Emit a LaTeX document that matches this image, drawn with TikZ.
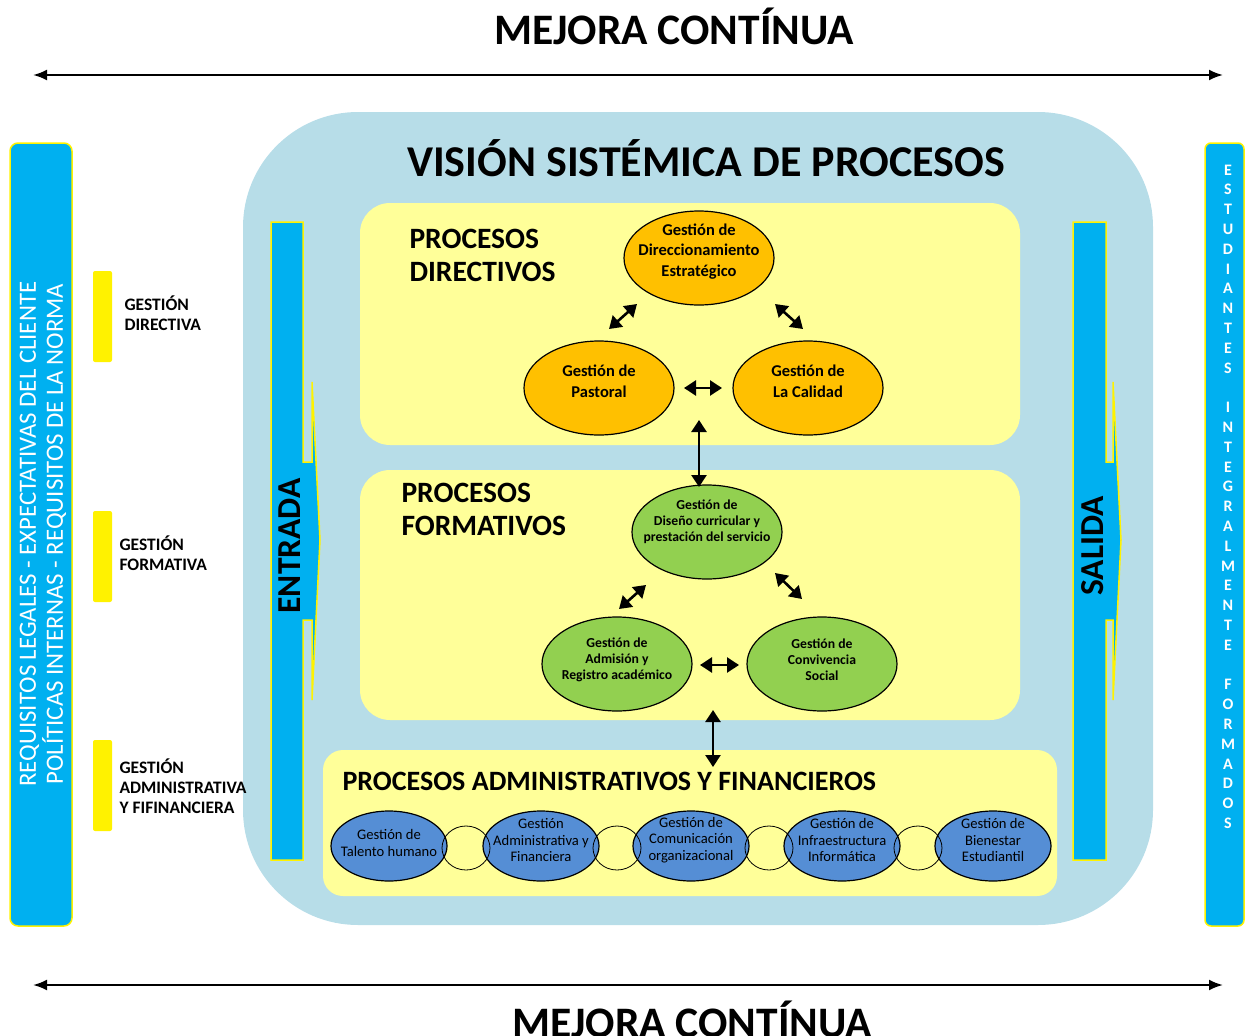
\documentclass[tikz,border=0pt]{standalone}
\usepackage{fontspec}
\setmainfont{Carlito}
\usetikzlibrary{arrows.meta,shapes.geometric,positioning}

\definecolor{celeste}{HTML}{B7DDE8}
\definecolor{azul}{HTML}{00B0F0}
\definecolor{amarillo}{HTML}{FFFF99}
\definecolor{naranja}{HTML}{FFC000}
\definecolor{verde}{HTML}{92D050}
\definecolor{azulgest}{HTML}{558ED5}

\tikzset{
  barra/.style={fill=azul, draw=yellow, line width=1.5pt},
  gdir/.style={ellipse, draw, line width=1.2pt, fill=naranja, minimum width=150pt, minimum height=94pt},
  gform/.style={gdir, fill=verde},
  gadm/.style={ellipse, draw, line width=1.2pt, fill=azulgest, minimum width=116pt, minimum height=70pt},
  tdir/.style={align=center, font=\bfseries\fontsize{16.5}{20.5}\selectfont},
  tform/.style={align=center, font=\bfseries\fontsize{13.7}{16}\selectfont},
  tadm/.style={align=center, font=\fontsize{14.6}{16.5}\selectfont},
  enlace/.style={ellipse, draw, line width=0.8pt, minimum width=48pt, minimum height=44pt},
  dflecha/.style={{Triangle[length=12pt,width=15pt]}-{Triangle[length=12pt,width=15pt]}, line width=2.6pt},
  flecha/.style={{Latex[length=14pt,width=11pt]}-{Latex[length=14pt,width=11pt]}, line width=2.2pt},
  titulo/.style={anchor=base, font=\bfseries\fontsize{43.5}{50}\selectfont},
  proc/.style={anchor=west, align=left, font=\bfseries\fontsize{29.5}{33}\selectfont},
  gest/.style={anchor=west, align=left, font=\bfseries\fontsize{17.5}{20}\selectfont},
}

\begin{document}
\begin{tikzpicture}[x=1pt,y=-1pt]
  \useasboundingbox (0,0) rectangle (1245,1036);

  % mejora continua
  \node[titulo] (mejora1) at (674,44) {MEJORA CONTÍNUA};
  \coordinate (m1a) at (33,75);
  \coordinate (m1b) at (1223,75);
  \draw[flecha] (m1a) -- (m1b);
  \coordinate (m2a) at (33,985);
  \coordinate (m2b) at (1223,985);
  \draw[flecha] (m2a) -- (m2b);
  \node[titulo] (mejora2) at (692,1037) {MEJORA CONTÍNUA};

  % requisitos y estudiantes
  \draw[barra, rounded corners=8pt] (10,143) rectangle (72,926);
  \node[rotate=90, white, align=center, font=\fontsize{24.8}{27}\selectfont] (requisitos) at (43,534)
    {REQUISITOS LEGALES - EXPECTATIVAS DEL CLIENTE\\POLÍTICAS INTERNAS - REQUISITOS DE LA NORMA};
  \draw[barra, rounded corners=6pt] (1205,143) rectangle (1244,926);
  \foreach \l [count=\i] in {E,S,T,U,D,I,A,N,T,E,S,~,I,N,T,E,G,R,A,L,M,E,N,T,E,~,F,O,R,M,A,D,O,S}
    \node[white, font=\bfseries\fontsize{16}{18}\selectfont] (letra\i) at (1228,{170+19.8*(\i-1)}) {\l};

  % vision sistemica
  \fill[celeste, rounded corners=115pt] (243,112) rectangle (1153,925);
  \node[anchor=base, font=\bfseries\fontsize{44}{50}\selectfont] (vision) at (706,176) {VISIÓN SISTÉMICA DE PROCESOS};
  \fill[amarillo, rounded corners=30pt] (360,203) rectangle (1020,445);
  \fill[amarillo, rounded corners=30pt] (360,470) rectangle (1020,720);
  \fill[amarillo, rounded corners=20pt] (323,750) rectangle (1057,896);

  % gestiones
  \fill[yellow, rounded corners=2pt] (93,271) rectangle (112,362);
  \fill[yellow, rounded corners=2pt] (93,511) rectangle (112,602);
  \fill[yellow, rounded corners=2pt] (93,740) rectangle (112,831);
  \node[gest] (gdirectiva) at (121,313) {GESTIÓN\\DIRECTIVA};
  \node[gest] (gformativa) at (116,553) {GESTIÓN\\FORMATIVA};
  \node[gest] (gadministrativa) at (116,786) {GESTIÓN\\ADMINISTRATIVA\\Y  FIFINANCIERA};

  % entrada y salida
  \draw[barra, line join=miter] (271,222) -- (303,222) -- (303,462) -- (312,462) -- (312,382) -- (320,540)
    -- (312,700) -- (312,620) -- (303,620) -- (303,860) -- (271,860) -- cycle;
  \node[rotate=90, font=\bfseries\fontsize{33.5}{36}\selectfont] (entrada) at (290,546) {ENTRADA};
  \draw[barra, line join=miter] (1073,222) -- (1106,222) -- (1106,462) -- (1113,462) -- (1113,382) -- (1121,540)
    -- (1113,700) -- (1113,620) -- (1106,620) -- (1106,860) -- (1073,860) -- cycle;
  \node[rotate=90, font=\bfseries\fontsize{33.5}{36}\selectfont] (salida) at (1093,546) {SALIDA};

  % procesos directivos
  \node[proc] (pdir) at (406,255) {PROCESOS\\DIRECTIVOS};
  \node[gdir, label={[tdir, yshift=6.5pt]center:{Gestión de\\Direccionamiento\\Estratégico}}] (direccion) at (699,258) {};
  \node[gdir, label={[tdir, yshift=6.5pt]center:{Gestión de\\Pastoral}}] (pastoral) at (599,388) {};
  \node[gdir, label={[tdir, yshift=6.5pt]center:{Gestión de\\La Calidad}}] (calidad) at (808,388) {};
  \coordinate (d1a) at (609,329); \coordinate (d1b) at (637,304);
  \coordinate (d2a) at (775,304); \coordinate (d2b) at (803,329);
  \coordinate (d3a) at (684,388); \coordinate (d3b) at (722,388);
  \draw[dflecha] (d1a) -- (d1b);
  \draw[dflecha] (d2a) -- (d2b);
  \draw[dflecha] (d3a) -- (d3b);

  % procesos formativos
  \node[proc] (pform) at (398,509) {PROCESOS\\FORMATIVOS};
  \node[gform, label={[tform, yshift=10pt]center:{Gestión de\\Diseño curricular y\\prestación del servicio}}] (diseno) at (707,532) {};
  \node[gform, label={[tform, yshift=4.5pt]center:{Gestión de\\Admisión y\\Registro académico}}] (admision) at (617,664) {};
  \node[gform, label={[tform, yshift=4.5pt]center:{Gestión de\\Convivencia\\Social}}] (convivencia) at (822,664) {};
  \coordinate (f1a) at (619,609); \coordinate (f1b) at (646,585);
  \coordinate (f2a) at (775,573); \coordinate (f2b) at (802,599);
  \coordinate (f3a) at (700,665); \coordinate (f3b) at (739,665);
  \draw[dflecha] (f1a) -- (f1b);
  \draw[dflecha] (f2a) -- (f2b);
  \draw[dflecha] (f3a) -- (f3b);
  \coordinate (v1a) at (699,420); \coordinate (v1b) at (699,487);
  \draw[dflecha] (v1a) -- (v1b);
  \coordinate (v2a) at (713,710); \coordinate (v2b) at (713,767);
  \draw[dflecha] (v2a) -- (v2b);

  % procesos administrativos
  \node[anchor=west, font=\bfseries\fontsize{28}{32}\selectfont] (padm) at (339,781) {PROCESOS ADMINISTRATIVOS Y FINANCIEROS};
  \node[gadm, label={[tadm, yshift=3pt]center:{Gestión de\\Talento humano}}] (talento) at (389,846) {};
  \node[gadm, label={[tadm, yshift=6pt]center:{Gestión\\Administrativa y\\Financiera}}] (administrativa) at (541,846) {};
  \node[gadm, label={[tadm, yshift=6pt]center:{Gestión de\\Comunicación\\organizacional}}] (comunicacion) at (691,846) {};
  \node[gadm, label={[tadm, yshift=6pt]center:{Gestión de\\Infraestructura\\Informática}}] (infra) at (842,846) {};
  \node[gadm, label={[tadm, yshift=6pt]center:{Gestión de\\Bienestar\\Estudiantil}}] (bienestar) at (993,846) {};
  \node[enlace] (e1) at (466,848) {};
  \node[enlace] (e2) at (617,848) {};
  \node[enlace] (e3) at (769,848) {};
  \node[enlace] (e4) at (918,848) {};
\end{tikzpicture}
\end{document}
